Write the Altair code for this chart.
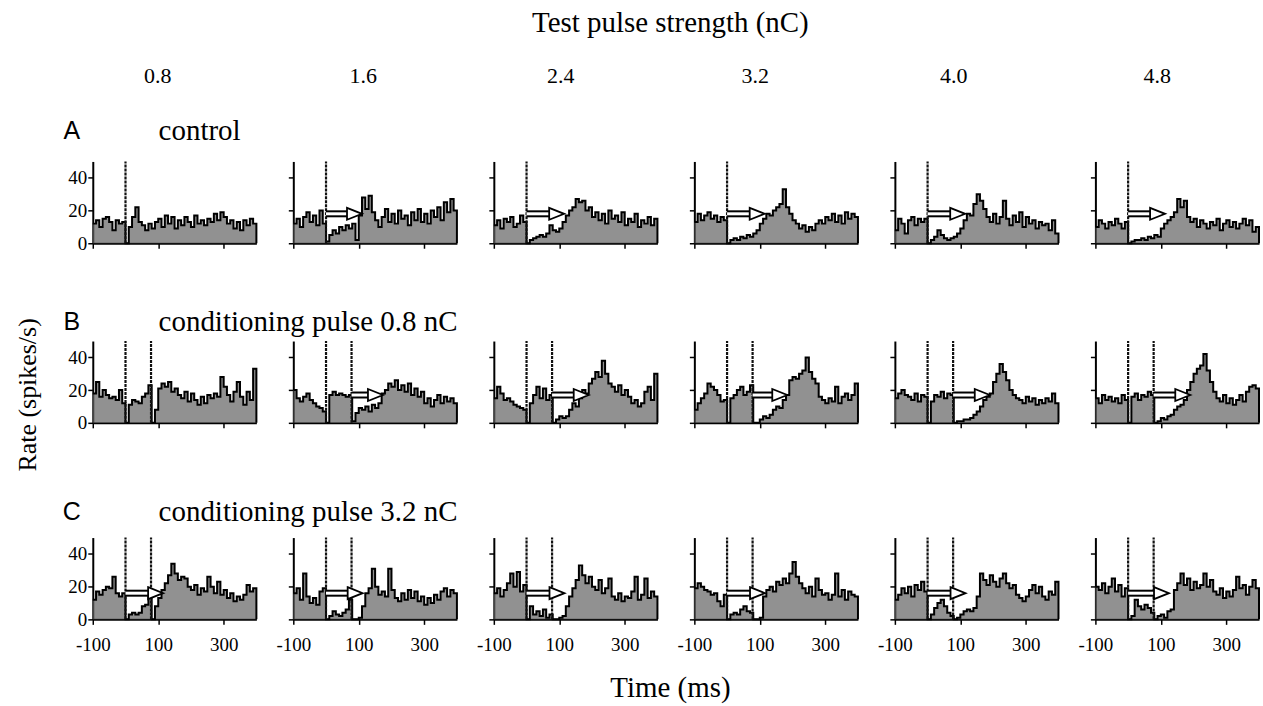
import altair as alt
import pandas as pd

# ------------------------------------------------------------------ data
strengths = ["0.8", "1.6", "2.4", "3.2", "4.0", "4.8"]
bin_start = -100          # ms, start of first bin
bin_width = 10            # ms
t_end = 400

# Row A : control (spikes/s, 10 ms bins from -100 ms)
control_08 = [12,14,10,15,16,13,8,14,12,13, 0,10,16,22,13,11,8,12,9,13,
              15,10,17,12,16,9,14,11,16,13, 10,17,12,14,11,15,13,18,14,19,
              16,12,14,9,13,8,14,11,15,12]
control_16 = [12,15,10,16,19,13,17,11,20,12, 1,5,8,6,10,8,11,9,12,2,
              17,28,21,29,19,14,10,16,21,13, 18,12,20,15,17,11,19,14,21,13,
              18,12,20,16,22,14,25,19,27,20]
control_24 = [11,14,9,15,13,16,10,12,17,13, 0,2,3,4,5,4,6,11,8,7,
              9,13,17,20,22,27,25,26,20,22, 16,19,14,18,12,20,15,17,13,19,
              11,15,13,18,10,14,12,16,11,15]
control_32 = [13,18,14,17,19,15,17,13,16,14, 0,2,3,2,4,3,5,4,6,8,
              12,15,18,17,20,22,24,33,22,18, 14,12,9,11,7,10,8,12,14,12,
              16,14,18,13,17,12,19,15,18,16]
control_40 = [8,15,12,6,14,16,11,15,13,15, 0,2,4,8,5,3,2,3,4,6,
              9,14,18,17,24,30,26,21,16,13, 18,12,16,26,15,11,17,13,19,10,
              16,12,14,9,13,11,12,8,14,6]
control_48 = [10,14,12,9,13,11,15,12,9,13, 0,1,2,2,3,2,4,3,5,4,
              9,12,14,16,19,27,22,26,16,13, 15,10,14,12,9,13,11,15,8,12,
              14,10,13,9,12,15,11,14,7,10]

# Row B : conditioning pulse 0.8 nC
cond08_08 = [18,25,16,20,17,15,16,14,20,12, 0,11,14,13,12,16,18,23,0,8,
             21,24,22,25,19,21,17,15,19,13, 18,14,11,16,12,17,15,18,16,28,
             22,17,13,19,25,16,11,19,14,33]
cond08_16 = [20,15,13,16,18,14,12,10,9,7, 0,17,19,17,18,17,16,17,1,6,
             9,8,10,7,11,9,12,18,20,24, 22,26,20,23,19,24,17,21,16,19,
             12,15,10,14,17,12,16,13,15,12]
cond08_24 = [15,22,18,14,15,13,11,10,9,8, 0,12,17,22,15,21,14,17,0,2,
             4,3,4,8,12,10,15,20,18,24, 27,31,28,38,30,24,22,19,23,17,
             20,16,12,14,10,12,19,22,14,30]
cond08_32 = [8,12,15,18,24,22,20,17,13,14, 0,15,17,20,22,17,19,23,0,0,
             2,4,3,5,8,10,9,14,17,26, 28,27,30,32,40,31,27,24,16,14,
             12,15,13,22,12,16,18,14,17,24]
cond08_40 = [15,18,20,17,16,14,18,13,17,16, 0,13,17,16,19,15,18,17,0,1,
             1,2,2,3,5,7,10,14,16,18, 25,30,36,31,26,20,17,15,14,12,
             16,13,15,11,14,12,15,13,18,12]
cond08_48 = [15,12,17,14,16,13,15,12,17,14, 0,16,18,14,17,16,19,17,0,1,
             3,2,4,5,8,10,11,14,20,25, 30,33,35,42,32,25,19,15,13,17,
             12,15,11,14,17,13,19,22,23,21]

# Row C : conditioning pulse 3.2 nC
cond32_08 = [12,17,15,18,20,19,26,16,14,16, 0,3,4,3,4,8,9,15,0,8,
             13,18,22,27,34,28,24,26,25,20, 18,21,15,19,17,26,20,16,23,15,
             18,13,16,11,14,12,15,21,17,19]
cond32_16 = [16,19,12,28,14,10,13,9,17,19, 0,2,5,3,2,4,6,12,0,0,
             1,8,16,19,31,20,15,17,14,31, 18,13,11,16,12,18,13,17,11,14,
             9,13,10,15,12,17,19,14,18,16]
cond32_24 = [16,19,14,18,22,28,20,29,17,21, 0,8,3,5,2,6,1,3,0,0,
             1,2,8,14,19,24,33,27,22,26, 20,18,24,16,19,25,14,12,16,11,
             14,13,17,26,12,15,25,13,17,14]
cond32_32 = [19,22,20,18,17,15,16,11,8,15, 0,3,4,3,6,8,5,4,0,0,
             1,14,18,20,17,23,21,25,22,28, 35,26,22,19,16,20,14,25,18,15,
             16,12,15,28,14,18,12,17,15,14]
cond32_40 = [12,15,19,16,20,14,21,18,23,17, 0,3,7,10,12,8,4,2,0,1,
             3,5,6,5,7,14,28,24,21,27, 23,20,25,28,22,19,21,15,13,11,
             14,18,21,16,20,14,12,17,15,23]
cond32_48 = [20,18,22,16,20,25,17,21,14,19, 0,2,12,8,6,9,7,4,0,2,
             3,1,5,6,18,22,28,21,25,18, 23,19,21,28,20,24,17,15,19,13,
             17,14,18,26,19,21,15,20,24,19]

rows_rates = [
    [control_08, control_16, control_24, control_32, control_40, control_48],
    [cond08_08, cond08_16, cond08_24, cond08_32, cond08_40, cond08_48],
    [cond32_08, cond32_16, cond32_24, cond32_32, cond32_40, cond32_48],
]
row_titles = ["control", "conditioning pulse 0.8 nC", "conditioning pulse 3.2 nC"]
row_letters = ["A", "B", "C"]

# stimulus pulse times (ms) per row
row_pulses = [[0], [0, 78], [0, 78]]

# suppression arrows: start / tip (ms) and level (spikes/s)
arrow_start = [[None, 0, 0, 0, 0, 0],
               [None, 78, 78, 78, 78, 78],
               [0, 0, 0, 0, 0, 0]]
arrow_tip = [[None, 110, 115, 115, 115, 113],
             [None, 174, 190, 184, 190, 190],
             [115, 112, 116, 116, 116, 125]]
arrow_level = [18, 17, 16]

x_ticks = list(range(-100, 401, 50))
y_ticks = [0, 20, 40]

# ------------------------------------------------------------------ style
SERIF = "Liberation Serif"
SANS = "Liberation Sans"
PW, PH = 164, 82
GAP = 37
FILL = "#626262"
HEAD = "M-1,-0.8L1,0L-1,0.8Z"

xs = alt.Scale(domain=[-100, 400], nice=False, zero=False)
ys = alt.Scale(domain=[0, 50], nice=False, zero=True)


def panel(rates, pulses, a0, a1, ay, xlabels, ylabels):
    n = len(rates)
    t = [bin_start + bin_width * i for i in range(n)] + [t_end, t_end]
    v = list(rates) + [rates[-1], 0]
    df = pd.DataFrame({"t": t, "v": v})
    xaxis = alt.Axis(values=x_ticks, labels=xlabels,
                     labelExpr="(datum.value == -100 || datum.value == 100 || datum.value == 300) ? toString(datum.value) : ''")
    yaxis = alt.Axis(values=y_ticks, labels=ylabels)
    area = alt.Chart(df).mark_area(
        interpolate="step-after", fill=FILL,
        line={"color": "black", "strokeWidth": 2},
    ).encode(
        x=alt.X("t:Q", scale=xs, axis=xaxis, title=None),
        y=alt.Y("v:Q", scale=ys, axis=yaxis, title=None, stack=None),
    )
    pdf = pd.DataFrame({"t": pulses, "y0": [0] * len(pulses), "y1": [50] * len(pulses)})
    rules = alt.Chart(pdf).mark_rule(color="#111111", strokeWidth=2.2, strokeDash=[3, 1]).encode(
        x=alt.X("t:Q", scale=xs, title=None),
        y=alt.Y("y0:Q", scale=ys, title=None),
        y2="y1:Q",
    )
    layers = [area, rules]
    if a0 is not None:
        adf = pd.DataFrame({"x0": [a0], "x1": [a1 - 40], "xh": [a1 - 23], "y": [ay]})
        enc = dict(x=alt.X("x0:Q", scale=xs, title=None), x2="x1:Q",
                   y=alt.Y("y:Q", scale=ys, title=None))
        shaft_bk = alt.Chart(adf).mark_rule(color="black", strokeWidth=7).encode(**enc)
        shaft_wh = alt.Chart(adf).mark_rule(color="white", strokeWidth=3).encode(**enc)
        head = alt.Chart(adf).mark_point(
            shape=HEAD, size=225, filled=True, fill="white", stroke="black",
            strokeWidth=1.8, opacity=1,
        ).encode(x=alt.X("xh:Q", scale=xs, title=None), y=alt.Y("y:Q", scale=ys, title=None))
        layers += [shaft_bk, shaft_wh, head]
    return alt.layer(*layers).properties(width=PW, height=PH)


def spacer(h):
    return alt.Chart(pd.DataFrame({"a": [0]})).mark_point(size=0, opacity=0).encode(
        x=alt.value(5), y=alt.value(5)).properties(width=10, height=h)


rows = []
for r in range(3):
    panels = []
    for c in range(6):
        panels.append(panel(rows_rates[r][c], row_pulses[r], arrow_start[r][c],
                            arrow_tip[r][c], arrow_level[r],
                            xlabels=(r == 2), ylabels=(c == 0)))
    rows.append(alt.hconcat(*panels, spacing=GAP, bounds="flush"))

# nested row groups count as zero height in a flush layout, so each spacer
# also covers the row above it
main = alt.vconcat(spacer(161), rows[0], spacer(98 + PH), rows[1], spacer(115 + PH), rows[2],
                   spacing=0, bounds="flush")


def txt(s, x, y, font=SERIF, size=29, align="center", angle=0):
    return alt.Chart(pd.DataFrame({"s": [s]})).mark_text(
        font=font, fontSize=size, align=align, baseline="middle", color="black", angle=angle,
    ).encode(text="s:N", x=alt.value(x), y=alt.value(y))


label_layers = [
    txt("Test pulse strength (nC)", 672, 22),
    txt("Time (ms)", 672, 689),
    txt("Rate (spikes/s)", 28, 395, size=26, angle=270),
]
col_x = [158, 364, 562, 757, 956, 1160]
for s, x in zip(strengths, col_x):
    label_layers.append(txt(s, x, 75, size=22))
row_y = [130, 322, 512]
for letter, title, y in zip(row_letters, row_titles, row_y):
    label_layers.append(txt(letter, 72, y, font=SANS, size=25))
    label_layers.append(txt(title, 159, y, align="left"))

left = alt.layer(*label_layers).properties(width=93, height=704)

chart = alt.hconcat(left, main, spacing=0, bounds="flush").properties(
    padding=0
).configure_axis(
    domainColor="black", domainWidth=2, tickColor="black", tickWidth=1.5, tickSize=5,
    labelFont=SERIF, labelFontSize=19, labelColor="black", grid=False,
    labelFlush=False, labelOverlap=False,
).configure_axisX(labelPadding=11).configure_axisY(labelPadding=1).configure_view(strokeWidth=0)

chart.save("out.html", embed_options={"renderer": "svg", "actions": False})
